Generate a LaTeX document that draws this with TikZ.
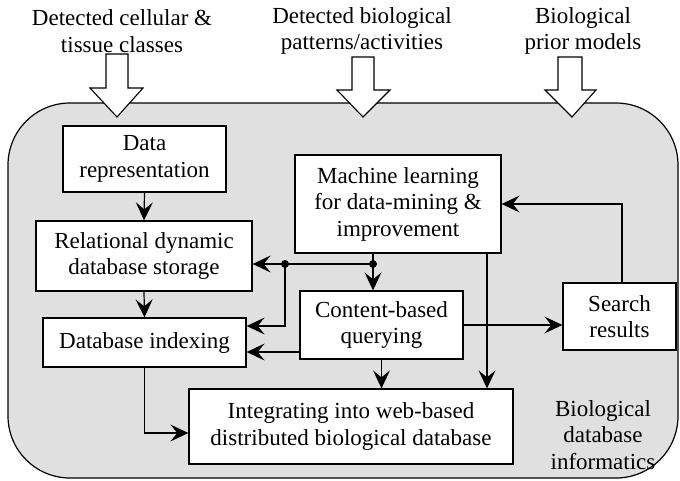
\documentclass[tikz,border=0pt]{standalone}
\usepackage{fontspec}
\setmainfont{Liberation Serif}
\usetikzlibrary{arrows.meta}
\begin{document}
\begin{tikzpicture}[x=1pt,y=-1pt,
  every node/.style={font=\fontsize{23}{26.5}\selectfont},
  box/.style={draw,line width=1.3pt,fill=white,align=center,inner sep=0pt},
  arr/.style={line width=1.2pt,-{Stealth[length=18pt,width=17pt,inset=7pt]}},
  wire/.style={line width=1.2pt},
  bigarrow/.style={draw,line width=1.1pt,fill=white},
  dot/.style={fill,circle,inner sep=0pt,minimum size=8pt}]
\useasboundingbox (0,0) rectangle (680,480);

% shaded panel
\draw[line width=1.2pt,fill=black!12,rounded corners=62pt] (8,103) rectangle (678,478);

% incoming hollow arrows
\draw[bigarrow] (106,54) -- (128,54) -- (128,88) -- (143,88) -- (117,117) -- (90,88) -- (106,88) -- cycle;
\draw[bigarrow] (352,57) -- (374,57) -- (374,90) -- (390,90) -- (363,117) -- (337,90) -- (352,90) -- cycle;
\draw[bigarrow] (558,57) -- (582,57) -- (582,90) -- (596,90) -- (572,117) -- (545,90) -- (558,90) -- cycle;

% source labels
\node[align=center] (src1) at (122,31) {Detected cellular \&\\tissue classes};
\node[align=center] (src2) at (362,31) {Detected biological\\patterns/activities};
\node[align=center] (src3) at (583,31) {Biological\\prior models};

% processing boxes
\node[box,minimum width=163pt,minimum height=66pt] (dr) at (144.5,159) {Data\\representation};
\node[box,minimum width=216pt,minimum height=70pt] (rel) at (144,256) {Relational dynamic\\database storage};
\node[box,minimum width=203pt,minimum height=49pt] (idx) at (144.5,342.5) {Database indexing};
\node[box,minimum width=324pt,minimum height=75pt] (integ) at (351,426.5) {Integrating into web-based\\distributed biological database};
\node[box,minimum width=206pt,minimum height=98pt] (ml) at (398,204) {Machine learning\\for data-mining \&\\improvement};
\node[box,minimum width=163pt,minimum height=68pt] (cbq) at (381.5,325) {Content-based\\querying};
\node[box,minimum width=113pt,minimum height=67pt] (sr) at (619.5,316.5) {Search\\results};

\node[align=center] (dbi) at (603,435) {Biological\\database\\informatics};

% branch points
\coordinate (d1) at (285,264);
\coordinate (d2) at (373,264);

% connectors
\draw[arr] (dr.south) -- (rel.north);
\draw[arr] (rel.south) -- (idx.north);
\draw[wire] (ml.south -| d2) -- (d2);
\draw[arr] (d2) -- (cbq.north -| d2);
\draw[arr] (d2) -- (d1) -- (rel.east |- d1);
\draw[arr] (d1) |- ([yshift=16.5pt]idx.east);
\draw[arr] ([yshift=-27pt]cbq.west) -- ([yshift=-9.5pt]idx.east);
\draw[arr] (cbq.east) -- (cbq.east -| sr.west);
\draw[arr] ([xshift=89pt]ml.south) -- ([xshift=89pt]ml.south |- integ.north);
\draw[arr] (cbq.south) -- (cbq.south |- integ.north);
\draw[arr] (idx.south) |- ([yshift=-6.5pt]integ.west);
\draw[arr] ([xshift=2.5pt]sr.north) |- (ml.east);

\node[dot] at (d1) {};
\node[dot] at (d2) {};
\end{tikzpicture}
\end{document}
